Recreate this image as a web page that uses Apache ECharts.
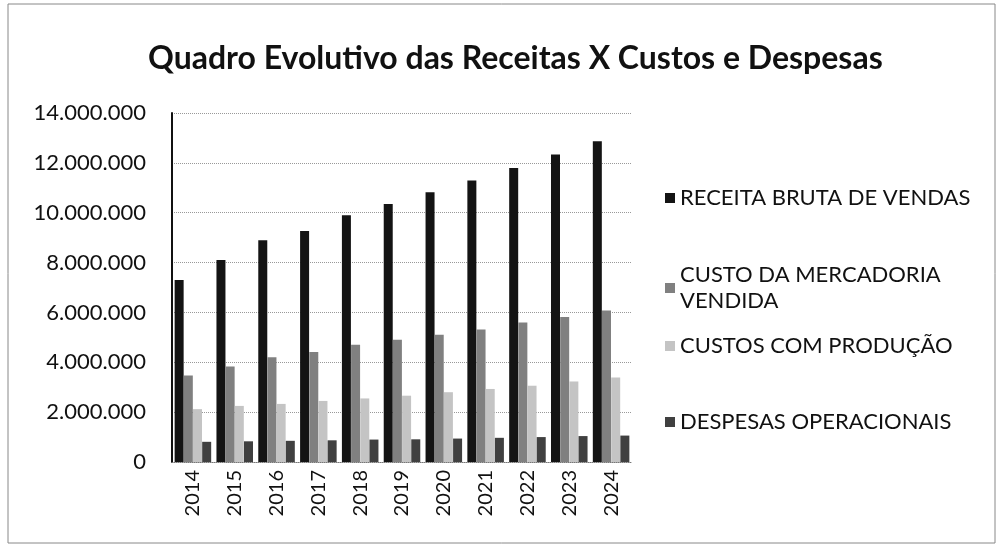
<!DOCTYPE html>
<html>
<head>
<meta charset="utf-8">
<script src="https://cdn.jsdelivr.net/npm/echarts@6/dist/echarts.min.js"></script>
<style>
  html, body { margin: 0; padding: 0; background: #fff; }
  #chart { width: 1001px; height: 551px; }
</style>
</head>
<body>
<div id="chart"></div>
<script>
// anos
const anos = ['2014', '2015', '2016', '2017', '2018', '2019', '2020', '2021', '2022', '2023', '2024'];
// valores
const receitaBruta = [7300000, 8100000, 8900000, 9270000, 9900000, 10350000, 10820000, 11290000, 11790000, 12340000, 12870000];
const custoMercadoria = [3470000, 3830000, 4200000, 4410000, 4700000, 4900000, 5100000, 5320000, 5600000, 5820000, 6080000];
const custosProducao = [2120000, 2250000, 2330000, 2450000, 2550000, 2660000, 2800000, 2930000, 3060000, 3230000, 3390000];
const despesasOper = [810000, 830000, 850000, 870000, 900000, 910000, 940000, 970000, 1000000, 1040000, 1060000];
const nomes = ['RECEITA BRUTA DE VENDAS', 'CUSTO DA MERCADORIA\nVENDIDA', 'CUSTOS COM PRODUÇÃO', 'DESPESAS OPERACIONAIS'];
const cores = ['#141414', '#808080', '#c4c4c4', '#404040'];

const fonte = 'Lato, "Open Sans", sans-serif';

function fmt(v) {
    return String(v).replace(/\B(?=(\d{3})+(?!\d))/g, '.');
}

function legenda(nome, top) {
    return {
        data: [nome],
        orient: 'vertical',
        left: 660,
        top: top,
        itemWidth: 10,
        itemHeight: 10,
        itemGap: 0,
        icon: 'rect',
        textStyle: { fontFamily: fonte, fontSize: 22, color: '#111', lineHeight: 26 }
    };
}

const series = [receitaBruta, custoMercadoria, custosProducao, despesasOper].map((d, i) => ({
    name: nomes[i],
    type: 'bar',
    data: d,
    barWidth: 9,
    barGap: '2%',
    itemStyle: { color: cores[i] }
}));

const option = {
    animation: false,
    backgroundColor: '#fff',
    color: cores,
    title: {
        text: 'Quadro Evolutivo das Receitas X Custos e Despesas',
        left: 143,
        top: 38,
        textStyle: { fontFamily: fonte, fontSize: 32, fontWeight: 'bold', color: '#111' }
    },
    legend: [
        legenda(nomes[0], 180),
        legenda(nomes[1], 257),
        legenda(nomes[2], 328),
        legenda(nomes[3], 404)
    ],
    grid: { left: 172, right: 369, top: 113, bottom: 89, containLabel: false },
    xAxis: {
        type: 'category',
        data: anos,
        axisLine: { lineStyle: { color: '#777', type: 'dotted' } },
        axisTick: { show: false },
        axisLabel: { rotate: 90, fontFamily: fonte, fontSize: 20, color: '#111', margin: 8 }
    },
    yAxis: {
        type: 'value',
        min: 0,
        max: 14000000,
        interval: 2000000,
        axisLine: { show: true, lineStyle: { color: '#111', width: 2 } },
        axisTick: { show: false },
        axisLabel: { fontFamily: fonte, fontSize: 22, color: '#111', margin: 26, formatter: fmt },
        splitLine: { lineStyle: { color: '#999', type: 'dotted' } }
    },
    graphic: [{
        type: 'rect',
        shape: { x: 8, y: 4, width: 987, height: 539 },
        style: { fill: 'none', stroke: '#888', lineWidth: 1 },
        silent: true
    }],
    series: series
};

var chart = echarts.init(document.getElementById('chart'));
chart.setOption(option);
</script>
</body>
</html>
